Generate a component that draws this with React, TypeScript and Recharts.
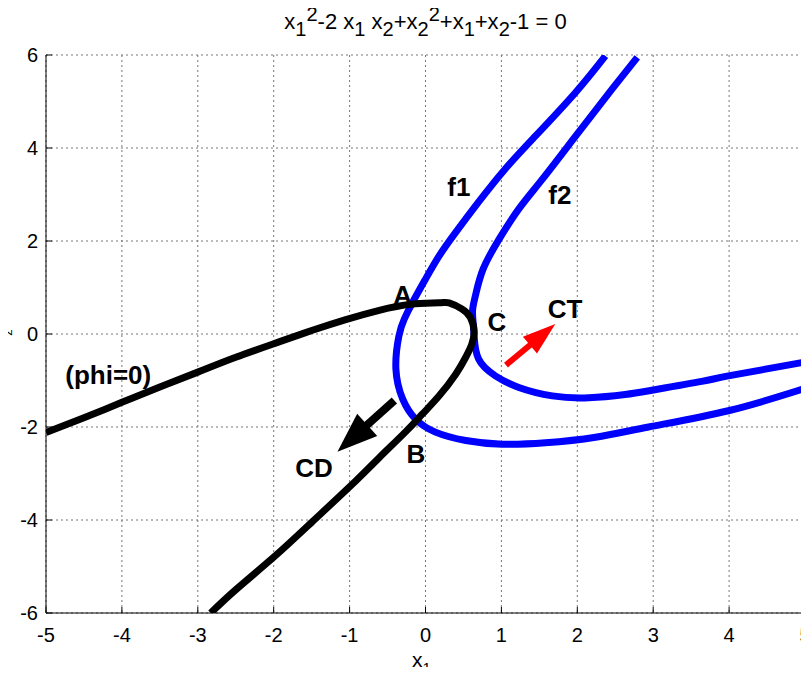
import React from 'react';
import { ComposedChart, Line, Scatter, XAxis, YAxis, CartesianGrid, ReferenceLine } from 'recharts';

// values
const xTicks = [-5, -4, -3, -2, -1, 0, 1, 2, 3, 4, 5];
const yTicks = [-6, -4, -2, 0, 2, 4, 6];

const phiCurve = [
  { x: -5, y: -2.12 }, { x: -4.5, y: -1.8 }, { x: -4, y: -1.47 }, { x: -3.5, y: -1.14 },
  { x: -3, y: -0.82 }, { x: -2.5, y: -0.5 }, { x: -1.93, y: -0.17 }, { x: -1.49, y: 0.08 },
  { x: -1.05, y: 0.31 }, { x: -0.61, y: 0.51 }, { x: -0.19, y: 0.64 }, { x: 0.18, y: 0.67 },
  { x: 0.31, y: 0.67 }, { x: 0.48, y: 0.54 }, { x: 0.59, y: 0.36 }, { x: 0.64, y: 0.07 },
  { x: 0.61, y: -0.22 }, { x: 0.53, y: -0.5 }, { x: 0.4, y: -0.86 }, { x: 0.18, y: -1.33 },
  { x: -0.04, y: -1.72 }, { x: -0.26, y: -2.1 }, { x: -0.61, y: -2.66 }, { x: -0.92, y: -3.16 },
  { x: -1.5, y: -4.05 }, { x: -2, y: -4.8 }, { x: -2.5, y: -5.5 }, { x: -2.83, y: -6 },
];

const f1Curve = [
  { x: 2.37, y: 5.98 }, { x: 1.98, y: 5.2 }, { x: 1.45, y: 4.26 }, { x: 1.05, y: 3.55 },
  { x: 0.7, y: 2.84 }, { x: 0.4, y: 2.19 }, { x: 0.18, y: 1.68 }, { x: 0, y: 1.18 },
  { x: -0.17, y: 0.68 }, { x: -0.28, y: 0.32 }, { x: -0.35, y: -0.04 }, { x: -0.39, y: -0.75 },
  { x: -0.3, y: -1.4 }, { x: -0.13, y: -1.83 }, { x: 0.13, y: -2.11 }, { x: 0.53, y: -2.29 },
  { x: 1.01, y: -2.37 }, { x: 1.58, y: -2.34 }, { x: 2.24, y: -2.22 }, { x: 2.94, y: -2.0 },
  { x: 3.99, y: -1.65 }, { x: 4.98, y: -1.18 },
];

const f2Curve = [
  { x: 2.79, y: 5.95 }, { x: 2.46, y: 5.27 }, { x: 1.98, y: 4.26 }, { x: 1.54, y: 3.33 },
  { x: 1.23, y: 2.69 }, { x: 0.97, y: 2.04 }, { x: 0.76, y: 1.4 }, { x: 0.66, y: 0.84 },
  { x: 0.62, y: 0.5 }, { x: 0.63, y: 0.2 }, { x: 0.64, y: -0.04 }, { x: 0.7, y: -0.54 },
  { x: 0.92, y: -0.9 }, { x: 1.23, y: -1.15 }, { x: 1.67, y: -1.33 }, { x: 2.15, y: -1.37 },
  { x: 2.63, y: -1.3 }, { x: 2.98, y: -1.21 }, { x: 3.64, y: -1.02 }, { x: 3.99, y: -0.9 },
  { x: 4.98, y: -0.61 },
];

const arrowCD = [{ x: -0.41, y: -1.43 }, { x: -1.16, y: -2.53 }];
const arrowCT = [{ x: 1.06, y: -0.67 }, { x: 1.71, y: 0.215 }];

const labels = [
  { x: 0.44, y: 3.16, text: 'f1' },
  { x: 1.77, y: 2.99, text: 'f2' },
  { x: -0.3, y: 0.84, text: 'A' },
  { x: -0.125, y: -2.58, text: 'B' },
  { x: 0.94, y: 0.26, text: 'C' },
  { x: 1.84, y: 0.54, text: 'CT' },
  { x: -1.47, y: -2.88, text: 'CD' },
  { x: -4.18, y: -0.88, text: '(phi=0)' },
];

const font = 'Arial, "Liberation Sans", Helvetica, sans-serif';

const arrowShape = (color: string, shaft: number, headLen: number, headHalf: number) => (props: any) => {
  const { x1, y1, x2, y2 } = props;
  const dx = x2 - x1;
  const dy = y2 - y1;
  const len = Math.sqrt(dx * dx + dy * dy) || 1;
  const ux = dx / len;
  const uy = dy / len;
  const bx = x2 - ux * headLen;
  const by = y2 - uy * headLen;
  const pts = `${x2},${y2} ${bx - uy * headHalf},${by + ux * headHalf} ${bx + uy * headHalf},${by - ux * headHalf}`;
  return (
    <g>
      <line x1={x1} y1={y1} x2={bx + ux} y2={by + uy} stroke={color} strokeWidth={shaft} />
      <polygon points={pts} fill={color} />
    </g>
  );
};

const LabelShape = (props: any) => (
  <text
    x={props.cx}
    y={props.cy}
    textAnchor="middle"
    dominantBaseline="central"
    fontFamily={font}
    fontWeight="bold"
    fontSize={26}
    fill="#000"
  >
    {props.payload.text}
  </text>
);

const sub = { fontSize: 20, position: 'relative' as const, top: 7 };
const sup = { fontSize: 20, position: 'relative' as const, top: -8 };

export default function App() {
  return (
    <div style={{ position: 'relative', width: 809, height: 675, margin: -8, background: '#fff', fontFamily: font }}>
      <div style={{ position: 'absolute', left: 46, width: 759, top: 11, textAlign: 'center', fontSize: 22, lineHeight: '22px' }}>
        x<span style={sub}>1</span><span style={sup}>2</span>-2 x<span style={sub}>1</span> x<span style={sub}>2</span>+x
        <span style={sub}>2</span><span style={sup}>2</span>+x<span style={sub}>1</span>+x<span style={sub}>2</span>-1 = 0
      </div>
      <ComposedChart width={809} height={675} margin={{ top: 55, right: 4, left: 0, bottom: 0 }}>
        <CartesianGrid stroke="#777" strokeDasharray="2 3" />
        <XAxis
          type="number"
          dataKey="x"
          domain={[-5, 5]}
          ticks={xTicks}
          interval={0}
          allowDataOverflow
          height={62}
          tickSize={-6}
          tickMargin={21}
          axisLine={{ stroke: '#000' }}
          tickLine={{ stroke: '#000' }}
          tick={{ fill: '#000', fontSize: 20, fontFamily: font }}
        />
        <YAxis
          type="number"
          dataKey="y"
          domain={[-6, 6]}
          ticks={yTicks}
          interval={0}
          allowDataOverflow
          width={46}
          tickSize={-6}
          tickMargin={14}
          axisLine={{ stroke: '#000' }}
          tickLine={{ stroke: '#000' }}
          tick={{ fill: '#000', fontSize: 20, fontFamily: font }}
        />
        <Line data={f1Curve} dataKey="y" type="natural" stroke="#0000ff" strokeWidth={7} dot={false} isAnimationActive={false} strokeLinejoin="round" />
        <Line data={f2Curve} dataKey="y" type="natural" stroke="#0000ff" strokeWidth={7} dot={false} isAnimationActive={false} strokeLinejoin="round" />
        <Line data={phiCurve} dataKey="y" type="natural" stroke="#000" strokeWidth={7} dot={false} isAnimationActive={false} strokeLinejoin="round" />
        <ReferenceLine segment={arrowCD} shape={arrowShape('#000', 8, 40, 15)} />
        <ReferenceLine segment={arrowCT} shape={arrowShape('#ff0000', 6, 33, 11)} />
        <Scatter data={labels} dataKey="y" shape={LabelShape} isAnimationActive={false} />
      </ComposedChart>
      <div style={{ position: 'absolute', left: 412, top: 648, fontSize: 21 }}>
        x<span style={{ fontSize: 15, position: 'relative', top: 6 }}>1</span>
      </div>
      <div style={{ position: 'absolute', left: 4, top: 325, fontSize: 13, transform: 'rotate(-90deg)' }}>z</div>
    </div>
  );
}
